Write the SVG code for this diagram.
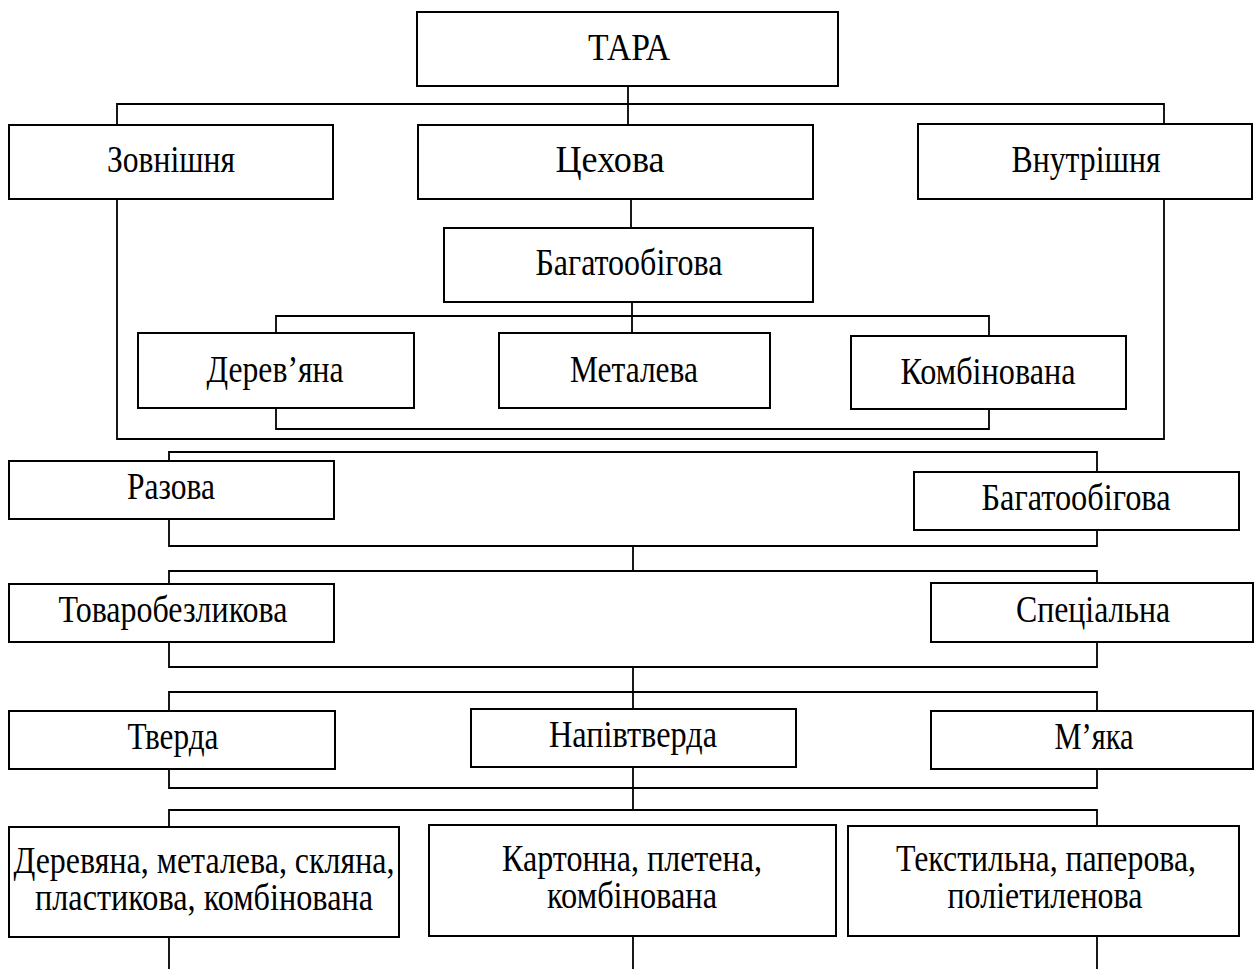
<svg xmlns="http://www.w3.org/2000/svg" width="1254" height="969" viewBox="0 0 1254 969">
<style>
.box{fill:#fff;stroke:#000;stroke-width:2}
.t{font-family:"Liberation Serif","Times New Roman",serif;font-size:37px;fill:#000;text-anchor:middle}
.c{fill:none;stroke:#000;stroke-width:1.8}
</style>
<rect width="1254" height="969" fill="#fff"/>
<g id="connectors">
<path class="c" d="M628 86V125"/>
<path class="c" d="M117 125V104H1164V124"/>
<path class="c" d="M117 199V439H1164V199"/>
<path class="c" d="M631 199V228"/>
<path class="c" d="M632 302V333"/>
<path class="c" d="M276 333V316H989V336"/>
<path class="c" d="M276 408V429H989V409"/>
<path class="c" d="M169 461V452H1097V472"/>
<path class="c" d="M169 519V546H1097V530"/>
<path class="c" d="M633 546V571"/>
<path class="c" d="M169 584V571H1097V583"/>
<path class="c" d="M169 642V667H1097V642"/>
<path class="c" d="M633 667V709"/>
<path class="c" d="M169 711V692H1097V711"/>
<path class="c" d="M169 769V788H1097V769"/>
<path class="c" d="M633 767V810"/>
<path class="c" d="M169 827V810H1097V826"/>
<path class="c" d="M169 937V969"/>
<path class="c" d="M633 936V969"/>
<path class="c" d="M1097 936V969"/>
</g>
<g id="tara"><rect class="box" x="417" y="12" width="421" height="74"/><text class="t" x="629" y="60" textLength="82" lengthAdjust="spacingAndGlyphs">ТАРА</text></g>
<g id="zovnishnia"><rect class="box" x="9" y="125" width="324" height="74"/><text class="t" x="171" y="172" textLength="128" lengthAdjust="spacingAndGlyphs">Зовнішня</text></g>
<g id="tsekhova"><rect class="box" x="418" y="125" width="395" height="74"/><text class="t" x="610" y="172" textLength="109" lengthAdjust="spacingAndGlyphs">Цехова</text></g>
<g id="vnutrishnia"><rect class="box" x="918" y="124" width="334" height="75"/><text class="t" x="1086" y="172" textLength="149" lengthAdjust="spacingAndGlyphs">Внутрішня</text></g>
<g id="bagatoobigova1"><rect class="box" x="444" y="228" width="369" height="74"/><text class="t" x="629" y="275" textLength="187" lengthAdjust="spacingAndGlyphs">Багатообігова</text></g>
<g id="derevyana"><rect class="box" x="138" y="333" width="276" height="75"/><text class="t" x="275" y="382" textLength="137" lengthAdjust="spacingAndGlyphs">Дерев’яна</text></g>
<g id="metaleva"><rect class="box" x="499" y="333" width="271" height="75"/><text class="t" x="634" y="382" textLength="128" lengthAdjust="spacingAndGlyphs">Металева</text></g>
<g id="kombinovana"><rect class="box" x="851" y="336" width="275" height="73"/><text class="t" x="988" y="384" textLength="175" lengthAdjust="spacingAndGlyphs">Комбінована</text></g>
<g id="razova"><rect class="box" x="9" y="461" width="325" height="58"/><text class="t" x="171" y="499" textLength="88" lengthAdjust="spacingAndGlyphs">Разова</text></g>
<g id="bagatoobigova2"><rect class="box" x="914" y="472" width="325" height="58"/><text class="t" x="1076" y="510" textLength="189" lengthAdjust="spacingAndGlyphs">Багатообігова</text></g>
<g id="tovarobezlykova"><rect class="box" x="9" y="584" width="325" height="58"/><text class="t" x="173" y="622" textLength="229" lengthAdjust="spacingAndGlyphs">Товаробезликова</text></g>
<g id="spetsialna"><rect class="box" x="931" y="583" width="322" height="59"/><text class="t" x="1093" y="622" textLength="154" lengthAdjust="spacingAndGlyphs">Спеціальна</text></g>
<g id="tverda"><rect class="box" x="9" y="711" width="326" height="58"/><text class="t" x="173" y="749" textLength="91" lengthAdjust="spacingAndGlyphs">Тверда</text></g>
<g id="napivtverda"><rect class="box" x="471" y="709" width="325" height="58"/><text class="t" x="633" y="747" textLength="168" lengthAdjust="spacingAndGlyphs">Напівтверда</text></g>
<g id="myaka"><rect class="box" x="931" y="711" width="322" height="58"/><text class="t" x="1094" y="749" textLength="79" lengthAdjust="spacingAndGlyphs">М’яка</text></g>
<g id="group1"><rect class="box" x="9" y="827" width="390" height="110"/><text class="t" x="204" y="873" textLength="381" lengthAdjust="spacingAndGlyphs">Деревяна, металева, скляна,</text><text class="t" x="204" y="910" textLength="338" lengthAdjust="spacingAndGlyphs">пластикова, комбінована</text></g>
<g id="group2"><rect class="box" x="429" y="825" width="407" height="111"/><text class="t" x="632" y="871" textLength="260" lengthAdjust="spacingAndGlyphs">Картонна, плетена,</text><text class="t" x="632" y="908" textLength="170" lengthAdjust="spacingAndGlyphs">комбінована</text></g>
<g id="group3"><rect class="box" x="848" y="826" width="391" height="110"/><text class="t" x="1046" y="871" textLength="300" lengthAdjust="spacingAndGlyphs">Текстильна, паперова,</text><text class="t" x="1045" y="908" textLength="195" lengthAdjust="spacingAndGlyphs">поліетиленова</text></g>
</svg>
